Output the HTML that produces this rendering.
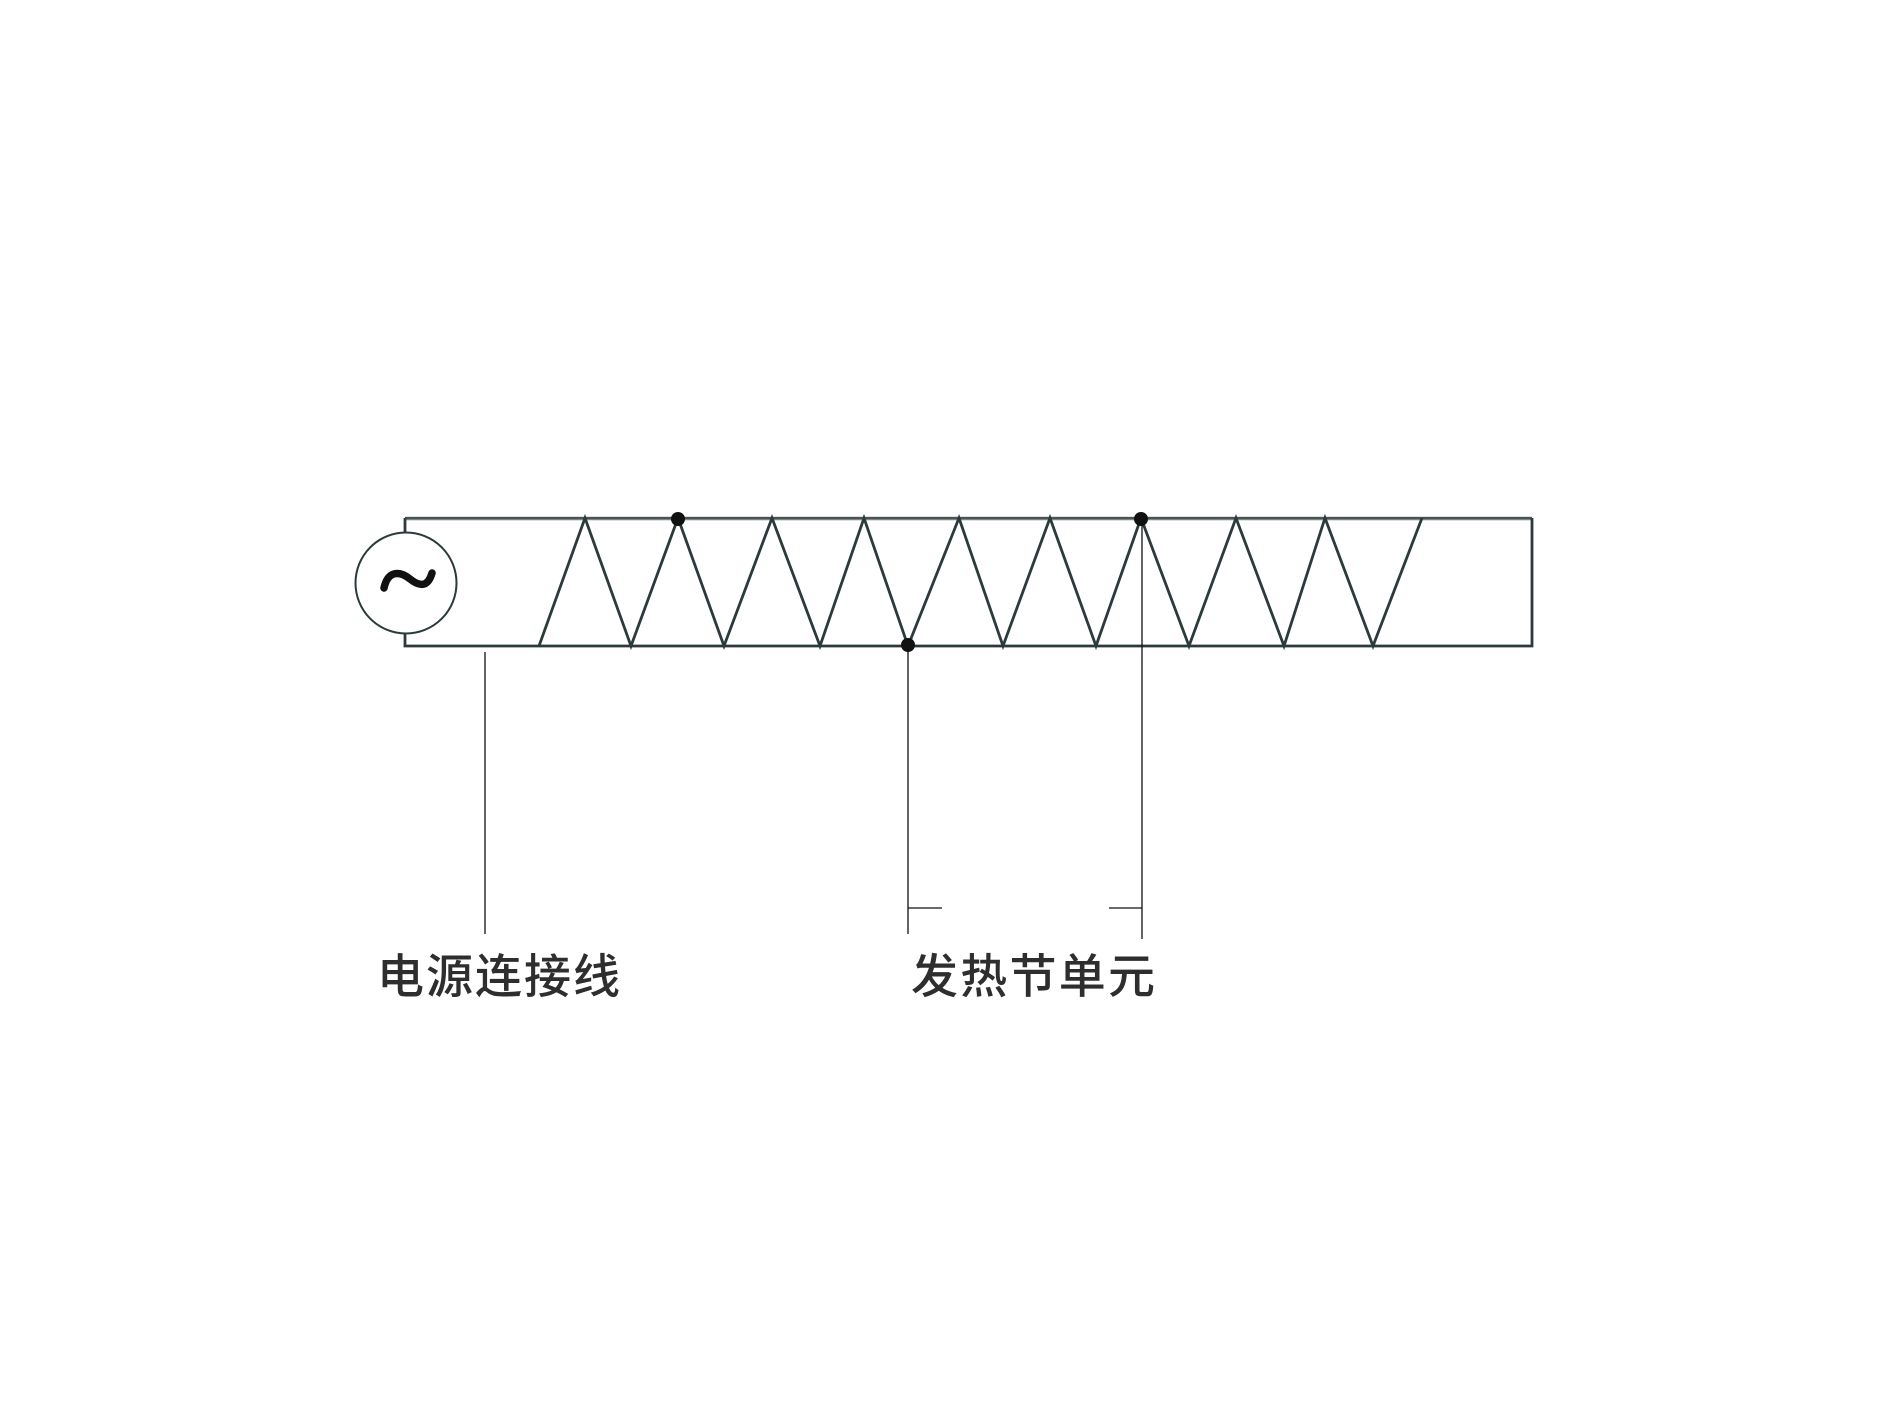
<!DOCTYPE html>
<html><head><meta charset="utf-8"><style>
html,body{margin:0;padding:0;background:#fff;}
svg{display:block;}
</style></head><body>
<svg width="1892" height="1416" viewBox="0 0 1892 1416" xmlns="http://www.w3.org/2000/svg">
<rect width="1892" height="1416" fill="#fff"/>
<g fill="none" stroke="#2c3a3c" stroke-width="2.8">
<line x1="405" y1="518.5" x2="1532" y2="518.5" stroke="#7d8485" stroke-width="3.5"/>
<line x1="405" y1="518" x2="1532" y2="518" stroke="#3a4546" stroke-width="1.5"/>
<polyline points="405,518 405,532"/>
<polyline points="405,634 405,646 1532,646 1532,518"/>
<circle cx="406" cy="583" r="50.5" stroke-width="2"/>
<polyline points="539,646 585,518 631,646 678,518 724,646 772,518 820,646 864,518 908,646 959,518 1003,646 1050,518 1096,646 1141,518 1189,646 1236,518 1284,646 1325,518 1373,646 1422,518"/>
</g>
<g fill="#111"><circle cx="678" cy="519" r="7"/><circle cx="1141" cy="519" r="7"/><circle cx="908" cy="645" r="7"/></g>
<path d="M384,588 C388,570 400,571 410,579 C420,587 428,587 432,573" fill="none" stroke="#111" stroke-width="7.5" stroke-linecap="round"/>
<g stroke="#111" stroke-width="1.3">
<line x1="485" y1="652" x2="485" y2="934"/>
<line x1="908" y1="648" x2="908" y2="934"/>
<line x1="1142" y1="522" x2="1142" y2="939"/>
<line x1="908" y1="908" x2="942" y2="908"/>
<line x1="1109" y1="908" x2="1142" y2="908"/>
</g>
<g font-family="'Liberation Sans','Noto Sans CJK SC',sans-serif" font-size="47" font-weight="500" fill="#2e2e2e">
<text x="377" y="993" textLength="243">电源连接线</text>
<text x="911" y="993" textLength="244">发热节单元</text>
</g>
</svg>
</body></html>
